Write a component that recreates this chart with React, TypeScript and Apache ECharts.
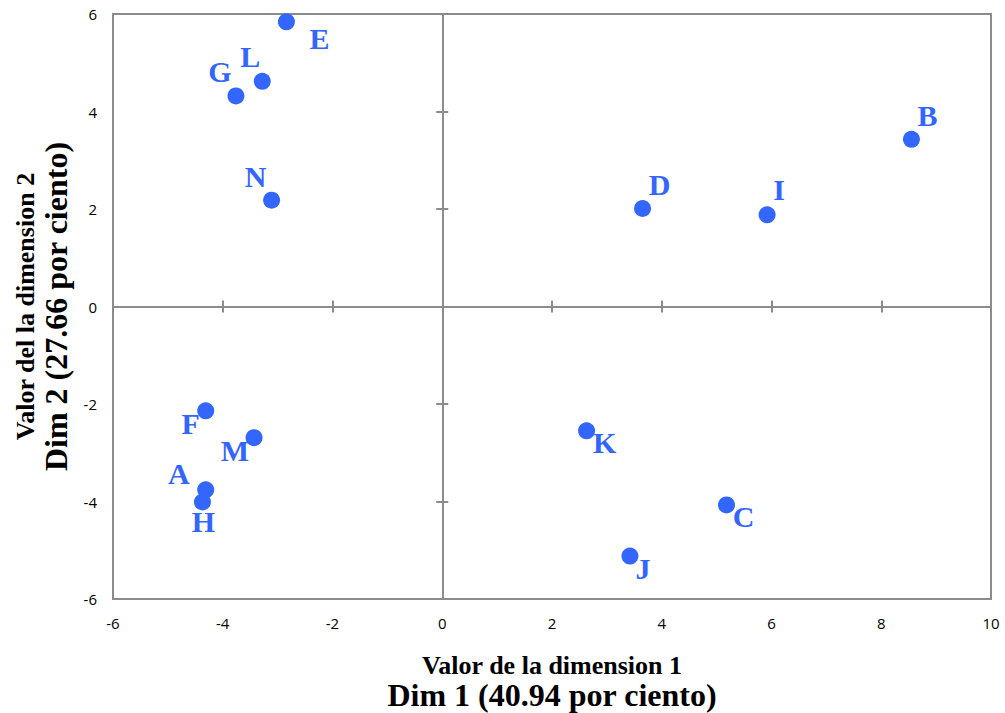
import React, { useEffect, useRef } from "react";
import * as echarts from "echarts";

// Point labels and coordinates on the first two dimensions
const pointNames = ["A", "B", "C", "D", "E", "F", "G", "H", "I", "J", "K", "L", "M", "N"];
const dim1Values = [-4.31, 8.55, 5.18, 3.65, -2.84, -4.31, -3.76, -4.37, 5.92, 3.42, 2.63, -3.28, -3.43, -3.11];
const dim2Values = [-3.76, 3.43, -4.07, 2.01, 5.84, -2.14, 4.32, -4.01, 1.88, -5.12, -2.55, 4.62, -2.69, 2.18];

// Axis ranges and tick step
const xRange = [-6, 10];
const yRange = [-6, 6];
const tickStep = 2;

// Axis titles
const xTitleLines = ["Valor de la dimension 1", "Dim 1 (40.94 por ciento)"];
const yTitleLines = ["Valor del la dimension 2", "Dim 2 (27.66 por ciento)"];

// Where each letter sits relative to its dot (pixels)
const labelOffsets: Record<string, [number, number]> = {
  A: [-27, -16],
  B: [16, -24],
  C: [17, 12],
  D: [17, -24],
  E: [33, 17],
  F: [-15, 13],
  G: [-16, -24],
  H: [1, 20],
  I: [12, -25],
  J: [13, 12],
  K: [18, 12],
  L: [-12, -25],
  M: [-19, 13],
  N: [-16, -24],
};

const POINT_COLOR = "#3366ff";
const AXIS_COLOR = "#8c8c8c";
const SERIF = '"Liberation Serif", "Times New Roman", serif';
const SANS = '"Open Sans", "Noto Sans", sans-serif';

export default function App() {
  const ref = useRef<HTMLDivElement>(null);

  useEffect(() => {
    if (!ref.current) return;
    const chart = echarts.init(ref.current, null, { renderer: "svg" });

    const grid = { left: 113, right: 14, top: 14, bottom: 114 };
    const plotCenterX = grid.left + (1005 - grid.left - grid.right) / 2;
    const plotCenterY = grid.top + (713 - grid.top - grid.bottom) / 2;

    const labelAxis = (min: number, max: number, position: string) => ({
      type: "value",
      min,
      max,
      interval: tickStep,
      position,
      axisLine: { show: false, onZero: false },
      axisTick: { show: false },
      splitLine: { show: false },
      axisLabel: { show: true, margin: 16, fontSize: 15, fontFamily: SANS, color: "#000" },
    });

    const zeroAxis = (min: number, max: number, position: string, inside: boolean) => ({
      type: "value",
      min,
      max,
      interval: tickStep,
      position,
      axisLine: { show: true, onZero: true, onZeroAxisIndex: 0, lineStyle: { color: AXIS_COLOR, width: 2 } },
      axisTick: { show: true, inside, length: 6, lineStyle: { color: AXIS_COLOR, width: 2 } },
      axisLabel: { show: false },
      splitLine: { show: false },
    });

    const seriesData = pointNames.map((name, i) => ({
      name,
      value: [dim1Values[i], dim2Values[i]],
      label: { offset: labelOffsets[name] },
    }));

    chart.setOption({
      animation: false,
      backgroundColor: "#fff",
      grid: {
        ...grid,
        show: true,
        borderColor: AXIS_COLOR,
        borderWidth: 2,
        backgroundColor: "transparent",
      },
      xAxis: [
        labelAxis(xRange[0], xRange[1], "bottom"),
        zeroAxis(xRange[0], xRange[1], "bottom", false),
        zeroAxis(xRange[0], xRange[1], "bottom", true),
      ],
      yAxis: [
        labelAxis(yRange[0], yRange[1], "left"),
        zeroAxis(yRange[0], yRange[1], "left", false),
        zeroAxis(yRange[0], yRange[1], "left", true),
      ],
      series: [
        {
          type: "scatter",
          xAxisIndex: 0,
          yAxisIndex: 0,
          symbol: "circle",
          symbolSize: 17,
          itemStyle: { color: POINT_COLOR, opacity: 1 },
          label: {
            show: true,
            position: "inside",
            formatter: "{b}",
            color: POINT_COLOR,
            fontFamily: SERIF,
            fontWeight: "bold",
            fontSize: 30,
          },
          data: seriesData,
        },
      ],
      graphic: [
        {
          type: "text",
          x: plotCenterX,
          y: 665,
          style: {
            text: xTitleLines[0],
            font: `bold 26px ${SERIF}`,
            fill: "#000",
            textAlign: "center",
            textVerticalAlign: "middle",
          },
        },
        {
          type: "text",
          x: plotCenterX,
          y: 695,
          style: {
            text: xTitleLines[1],
            font: `bold 32px ${SERIF}`,
            fill: "#000",
            textAlign: "center",
            textVerticalAlign: "middle",
          },
        },
        {
          type: "text",
          x: 25,
          y: plotCenterY,
          rotation: Math.PI / 2,
          style: {
            text: yTitleLines[0],
            font: `bold 26px ${SERIF}`,
            fill: "#000",
            textAlign: "center",
            textVerticalAlign: "middle",
          },
        },
        {
          type: "text",
          x: 56,
          y: plotCenterY,
          rotation: Math.PI / 2,
          style: {
            text: yTitleLines[1],
            font: `bold 32px ${SERIF}`,
            fill: "#000",
            textAlign: "center",
            textVerticalAlign: "middle",
          },
        },
      ],
    });

    return () => chart.dispose();
  }, []);

  return (
    <div
      ref={ref}
      style={{ position: "absolute", left: 0, top: 0, width: 1005, height: 713 }}
    />
  );
}
